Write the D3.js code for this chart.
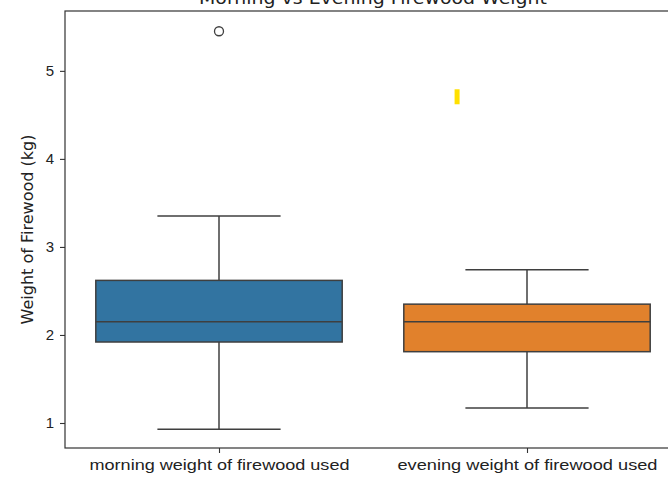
<!DOCTYPE html>
<html>
<head>
<meta charset="utf-8">
<script src="https://cdn.jsdelivr.net/npm/d3@7"></script>
<style>
  html, body { margin: 0; padding: 0; background: #fff; }
  svg { display: block; font-family: "DejaVu Sans", sans-serif; }
</style>
</head>
<body>
<svg id="chart" width="668" height="477"></svg>
<script>
// Box plot summary values (kg)
const categories = ["morning weight of firewood used", "evening weight of firewood used"];
const whiskerLow  = [0.93, 1.17];
const q1          = [1.92, 1.81];
const median      = [2.15, 2.15];
const q3          = [2.62, 2.35];
const whiskerHigh = [3.35, 2.74];
const outliers    = [[5.45], []];
const fills       = ["#3274a1", "#e1812c"];
const yTicks      = [1, 2, 3, 4, 5];
// Small yellow marker near the evening group
const markerPos   = [0.773];
const markerVal   = [4.70];

const title = "Morning vs Evening Firewood Weight";
const yLabel = "Weight of Firewood (kg)";

const svg = d3.select("#chart");
const margin = { left: 65, top: 11, right: -13, bottom: 29 };
const W = 668, H = 477;

const x = d3.scaleLinear().domain([-0.5, 1.5]).range([margin.left, W - margin.right]);
const y = d3.scaleLinear().domain([0.716, 5.68]).range([H - margin.bottom, margin.top]);

const lineCol = "#3f3f3f";
const boxW = 0.8, capW = 0.4;

const rows = categories.map((c, i) => ({
  c, i, lo: whiskerLow[i], q1: q1[i], med: median[i], q3: q3[i], hi: whiskerHigh[i],
  out: outliers[i], fill: fills[i]
}));

const g = svg.append("g");

// whiskers
g.selectAll(".wlo").data(rows).join("line")
  .attr("x1", d => x(d.i)).attr("x2", d => x(d.i))
  .attr("y1", d => y(d.q1)).attr("y2", d => y(d.lo))
  .attr("stroke", lineCol).attr("stroke-width", 1.5);
g.selectAll(".whi").data(rows).join("line")
  .attr("x1", d => x(d.i)).attr("x2", d => x(d.i))
  .attr("y1", d => y(d.q3)).attr("y2", d => y(d.hi))
  .attr("stroke", lineCol).attr("stroke-width", 1.5);
// caps
["lo", "hi"].forEach(k => {
  g.selectAll(".cap" + k).data(rows).join("line")
    .attr("x1", d => x(d.i - capW / 2)).attr("x2", d => x(d.i + capW / 2))
    .attr("y1", d => y(d[k])).attr("y2", d => y(d[k]))
    .attr("stroke", lineCol).attr("stroke-width", 1.5);
});
// boxes
g.selectAll(".box").data(rows).join("rect")
  .attr("x", d => x(d.i - boxW / 2))
  .attr("width", d => x(d.i + boxW / 2) - x(d.i - boxW / 2))
  .attr("y", d => y(d.q3))
  .attr("height", d => y(d.q1) - y(d.q3))
  .attr("fill", d => d.fill)
  .attr("stroke", lineCol).attr("stroke-width", 1.5);
// medians
g.selectAll(".med").data(rows).join("line")
  .attr("x1", d => x(d.i - boxW / 2)).attr("x2", d => x(d.i + boxW / 2))
  .attr("y1", d => y(d.med)).attr("y2", d => y(d.med))
  .attr("stroke", lineCol).attr("stroke-width", 1.5);
// outliers
rows.forEach(d => {
  g.selectAll(null).data(d.out).join("circle")
    .attr("cx", x(d.i)).attr("cy", v => y(v)).attr("r", 4.5)
    .attr("fill", "none").attr("stroke", lineCol).attr("stroke-width", 1.3);
});
// yellow marker
g.selectAll(".mk").data(markerVal).join("rect")
  .attr("x", (v, i) => x(markerPos[i]) - 2.5)
  .attr("y", v => y(v) - 8)
  .attr("width", 5).attr("height", 15)
  .attr("fill", "#ffe000");

// axes
const yAxis = d3.axisLeft(y).tickValues(yTicks).tickFormat(d3.format("d")).tickSize(5).tickPadding(6);
const ya = svg.append("g").attr("transform", `translate(${margin.left},0)`).call(yAxis);
const xAxis = d3.axisBottom(x).tickValues(categories.map((c, i) => i))
  .tickFormat(i => categories[i]).tickSize(5).tickPadding(6);
const xa = svg.append("g").attr("transform", `translate(0,${H - margin.bottom})`).call(xAxis);
[ya, xa].forEach(a => {
  a.select(".domain").remove();
  a.selectAll(".tick line").attr("stroke", "#333").attr("stroke-width", 1.1);
  a.selectAll(".tick text").attr("fill", "#222").style("font-size", "15px");
});
xa.selectAll(".tick text")
  .attr("textLength", 260).attr("lengthAdjust", "spacingAndGlyphs");

// frame
svg.append("rect")
  .attr("x", margin.left).attr("y", margin.top)
  .attr("width", W - margin.right - margin.left)
  .attr("height", H - margin.bottom - margin.top)
  .attr("fill", "none").attr("stroke", "#333").attr("stroke-width", 1.2);

// labels
svg.append("text")
  .attr("transform", `translate(33,${(margin.top + H - margin.bottom) / 2}) rotate(-90)`)
  .attr("text-anchor", "middle").attr("fill", "#222")
  .attr("textLength", 190).attr("lengthAdjust", "spacingAndGlyphs")
  .style("font-size", "15px").text(yLabel);

svg.append("text")
  .attr("x", (margin.left + W - margin.right) / 2).attr("y", 4)
  .attr("text-anchor", "middle").attr("fill", "#222")
  .attr("textLength", 348).attr("lengthAdjust", "spacingAndGlyphs")
  .style("font-size", "18px").text(title);
</script>
</body>
</html>
